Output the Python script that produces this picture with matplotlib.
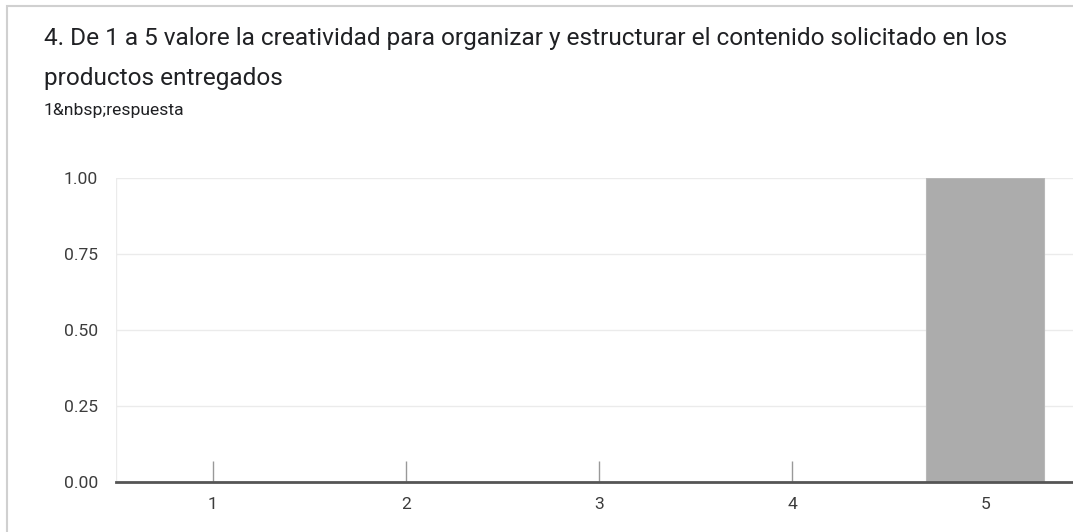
import matplotlib.pyplot as plt
from matplotlib.patches import Rectangle

categories = [1, 2, 3, 4, 5]
counts = [0, 0, 0, 0, 1]
y_ticks = [0.0, 0.25, 0.5, 0.75, 1.0]

title = 'De 1 a 5 valore la creatividad para organizar y estructurar el contenido solicitado en los\nproductos entregados'
subtitle = '1&nbsp;respuesta'

W, H = 1073, 532
fig = plt.figure(figsize=(W / 100, H / 100), dpi=100)
plt.rcParams['font.family'] = ['Roboto', 'DejaVu Sans']

# card frame (cropped on right and bottom)
fig.patches.append(Rectangle((7 / W, -0.1), 1.2, 1.1 - 6 / H, transform=fig.transFigure,
                             fill=False, edgecolor='#d0d0d0', linewidth=1.5))

# axes: x=0.5 at px 116, one category = 193.2 px
left = 116
ax = fig.add_axes([left / W, (H - 482) / H, 5 * 193.2 / W, (482 - 178) / H])
ax.bar(categories, counts, width=0.61, color='#acacac', edgecolor='#b8b8b8', linewidth=0.8, zorder=2)
ax.set_xlim(0.5, 5.5)
ax.set_ylim(0, 1.0)
ax.set_yticks(y_ticks)
ax.set_yticklabels(['%.2f' % v for v in y_ticks])
ax.set_xticks(categories)
ax.set_xticklabels([str(c) for c in categories])
ax.grid(axis='y', color='#ebebeb', linewidth=1)
ax.axvline(0.5, color='#ebebeb', linewidth=1)
for s in ['top', 'right', 'left']:
    ax.spines[s].set_visible(False)
ax.spines['bottom'].set_color('#555555')
ax.spines['bottom'].set_linewidth(2)
ax.spines['bottom'].set_zorder(3)
ax.tick_params(axis='y', length=0, pad=13, labelsize=12.6, labelcolor='#3c3c3c')
ax.tick_params(axis='x', direction='in', length=15, width=1, color='#999999',
               pad=11, labelsize=12.6, labelcolor='#3c3c3c')

fig.text(44 / W, 1 - 39 / H, '4. ' + title.split('\n')[0], fontsize=17.6, color='#202124', va='center')
fig.text(44 / W, 1 - 78 / H, title.split('\n')[1], fontsize=17.6, color='#202124', va='center')
fig.text(44 / W, 1 - 110 / H, subtitle, fontsize=12.6, color='#202124', va='center')

fig.savefig('out.png', dpi=100, facecolor='white')
